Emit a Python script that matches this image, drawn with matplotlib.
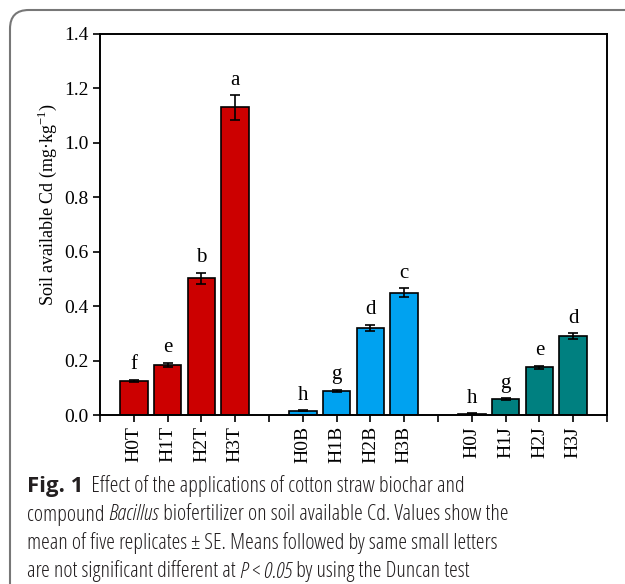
import matplotlib
matplotlib.use("Agg")
import matplotlib.pyplot as plt
from matplotlib.patches import FancyBboxPatch
import numpy as np

categories = ["H0T", "H1T", "H2T", "H3T", "H0B", "H1B", "H2B", "H3B", "H0J", "H1J", "H2J", "H3J"]
values = [0.125, 0.183, 0.503, 1.130, 0.015, 0.088, 0.320, 0.450, 0.005, 0.058, 0.175, 0.290]
errors = [0.005, 0.008, 0.020, 0.045, 0.002, 0.004, 0.012, 0.015, 0.001, 0.003, 0.006, 0.010]
letters = ["f", "e", "b", "a", "h", "g", "d", "c", "h", "g", "e", "d"]
positions = [1, 2, 3, 4, 6, 7, 8, 9, 11, 12, 13, 14]
group_colors = ["#CC0000"] * 4 + ["#00A2F0"] * 4 + ["#008080"] * 4
yticks = [0.0, 0.2, 0.4, 0.6, 0.8, 1.0, 1.2, 1.4]

W, H = 625, 584
fig = plt.figure(figsize=(W / 100, H / 100), dpi=100)

serif = ["Liberation Serif", "DejaVu Serif"]

ax = fig.add_axes([100 / W, 1 - 415 / H, (607 - 100) / W, (415 - 34) / H])
ax.bar(positions, values, width=0.82, color=group_colors, edgecolor="black", linewidth=1.2, zorder=2)
ax.errorbar(positions, values, yerr=errors, fmt="none", ecolor="black", elinewidth=1.2,
            capsize=3.5, capthick=1.2, zorder=3)
for p, v, e, l in zip(positions, values, errors, letters):
    ax.annotate(l, (p, v + e), xytext=(0, 4), textcoords="offset points", ha="center", va="bottom",
                fontsize=15, family=serif)

ax.set_xlim(0, 15)
ax.set_ylim(0, 1.4)
ax.set_yticks(yticks)
ax.set_yticklabels([f"{t:.1f}" for t in yticks], family=serif, fontsize=14)
xt = list(range(0, 16))
xl = []
for t in xt:
    xl.append(categories[positions.index(t)] if t in positions else "")
ax.set_xticks(xt)
ax.set_xticklabels(xl, rotation=90, family=serif, fontsize=14)
ax.tick_params(axis="both", direction="out", length=5, width=1.2, colors="black", pad=3)
for s in ax.spines.values():
    s.set_linewidth(1.4)
ax.set_ylabel("Soil available Cd (mg·kg$^{\\mathregular{-1}}$)", family=serif, fontsize=13)
ax.yaxis.set_label_coords(-0.081, 0.551)

# outer rounded frame
box = FancyBboxPatch((10 / W, -20 / H), 700 / W, (H - 10 + 20) / H,
                     boxstyle="round,pad=0,rounding_size=0.03", transform=fig.transFigure,
                     facecolor="none", edgecolor="#777777", linewidth=1.5, mutation_aspect=W / H)
fig.patches.append(box)

# caption
renderer = fig.canvas.get_renderer()
cap_font = ["Open Sans", "DejaVu Sans"]
cap_stretch = "condensed"
lines = [
    [("Fig. 1", "bold", "normal"), ("  Effect of the applications of cotton straw biochar and", "normal", "normal")],
    [("compound ", "normal", "normal"), ("Bacillus", "normal", "italic"),
     (" biofertilizer on soil available Cd. Values show the", "normal", "normal")],
    [("mean of five replicates \u00b1 SE. Means followed by same small letters", "normal", "normal")],
    [("are not significant different at ", "normal", "normal"), ("P < 0.05", "normal", "italic"),
     (" by using the Duncan test", "normal", "normal")],
]
baselines = [492, 520.5, 549, 577.5]

def line_width(runs, size):
    w = 0.0
    for txt, wt, st in runs:
        t = fig.text(0, 0, txt, fontsize=size, family=cap_font, weight=wt, style=st, stretch=cap_stretch)
        w += t.get_window_extent(renderer).width
        t.remove()
    return w

cap_size = 12.0
cap_size *= 478.0 / line_width(lines[1], cap_size)

for runs, yb in zip(lines, baselines):
    x = 27.0
    for txt, wt, st in runs:
        t = fig.text(x / W, 1 - yb / H, txt, fontsize=cap_size, family=cap_font, weight=wt,
                     style=st, stretch=cap_stretch, ha="left", va="baseline", color="#231F20")
        x += t.get_window_extent(renderer).width

fig.savefig("out.png", dpi=100)
